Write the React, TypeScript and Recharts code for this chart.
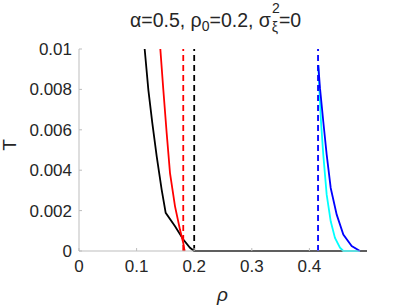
import { Line, LineChart, ReferenceLine, XAxis, YAxis } from "recharts";

// values
const rhoTicks = [0, 0.1, 0.2, 0.3, 0.4];
const tTicks = [0, 0.002, 0.004, 0.006, 0.008, 0.01];

const blackRho = [0.114, 0.1204, 0.1273, 0.1349, 0.1435, 0.1505, 0.1667, 0.1811, 0.1927, 0.2, 0.5];
const blackT = [0.01, 0.00798, 0.00633, 0.00468, 0.00304, 0.00189, 0.00122, 0.00057, 0.00016, 0, 0];

const redRho = [0.1412, 0.1464, 0.1522, 0.158, 0.1667, 0.1753, 0.181, 0.1829, 0.1835];
const redT = [0.01, 0.00798, 0.00584, 0.00386, 0.00221, 0.00106, 0.0004, 0.00007, 0];

const cyanRho = [0.4154, 0.4172, 0.4201, 0.4241, 0.43, 0.437, 0.4444, 0.4531, 0.4589, 0.4878];
const cyanT = [0.00921, 0.00806, 0.00641, 0.00477, 0.00279, 0.00147, 0.00065, 0.00016, 0, 0];

const blueRho = [0.4154, 0.4184, 0.4241, 0.43, 0.437, 0.4474, 0.4589, 0.4734, 0.4878];
const blueT = [0.00921, 0.00806, 0.00641, 0.00477, 0.00312, 0.0018, 0.00081, 0.00024, 0];

const rho0 = 0.2;
const redCut = 0.181;
const blueCut = 0.415;

const W = 407;
const H = 305;
const margin = { top: 49, right: 40, bottom: 24, left: 19 };
const yAxisWidth = 60;
const xAxisHeight = 30;
const plotLeft = margin.left + yAxisWidth;
const plotBottom = H - margin.bottom - xAxisHeight;

const axisGray = "#bdbdbd";
const textGray = "#262626";
const font = "'Liberation Sans', Arial, Helvetica, sans-serif";

const zip = (xs: number[], ys: number[]) => xs.map((rho, i) => ({ rho, t: ys[i] }));

function XTick({ x, y, payload }: any) {
  return (
    <g>
      <line x1={x} x2={x} y1={plotBottom} y2={plotBottom - 3} stroke={axisGray} />
      <text x={x} y={y} dy={15} textAnchor="middle" fill={textGray} fontSize={17} fontFamily={font}>
        {payload.value}
      </text>
    </g>
  );
}

function YTick({ x, y, payload }: any) {
  return (
    <g>
      <line x1={plotLeft} x2={plotLeft + 3} y1={y} y2={y} stroke={axisGray} />
      <text x={x} y={y} dy={6} textAnchor="end" fill={textGray} fontSize={17} fontFamily={font}>
        {payload.value}
      </text>
    </g>
  );
}

const series = [
  { name: "black", color: "#000000", data: zip(blackRho, blackT) },
  { name: "red", color: "#ff0000", data: zip(redRho, redT) },
  { name: "cyan", color: "#00ffff", data: zip(cyanRho, cyanT) },
  { name: "blue", color: "#0000ff", data: zip(blueRho, blueT) },
];

export default function App() {
  return (
    <div style={{ position: "absolute", left: 0, top: 0, width: W, height: H, fontFamily: font, color: textGray }}>
      <LineChart width={W} height={H} margin={margin}>
        <XAxis
          dataKey="rho"
          type="number"
          domain={[0, 0.5]}
          ticks={rhoTicks}
          height={xAxisHeight}
          axisLine={{ stroke: axisGray }}
          tickLine={false}
          tickSize={0}
          tickMargin={6}
          tick={<XTick />}
          allowDuplicatedCategory={false}
        />
        <YAxis
          type="number"
          domain={[0, 0.01]}
          ticks={tTicks}
          width={yAxisWidth}
          axisLine={{ stroke: axisGray }}
          tickLine={false}
          tickSize={0}
          tickMargin={7}
          tick={<YTick />}
        />
        {series.map((s) => (
          <Line
            key={s.name}
            data={s.data}
            dataKey="t"
            type="linear"
            stroke={s.color}
            strokeWidth={1.8}
            dot={false}
            activeDot={false}
            isAnimationActive={false}
          />
        ))}
        <ReferenceLine x={redCut} stroke="#ff0000" strokeWidth={1.8} strokeDasharray="6 4" />
        <ReferenceLine x={rho0} stroke="#000000" strokeWidth={1.8} strokeDasharray="6 4" />
        <ReferenceLine x={blueCut} stroke="#0000ff" strokeWidth={1.8} strokeDasharray="6 4" />
      </LineChart>
      <svg width={W} height={45} style={{ position: "absolute", left: 0, top: 0 }}>
        <text x={130} y={27} fontSize={19.5} fill={textGray} fontFamily={font}>
          α=0.5, ρ
          <tspan fontSize={14} dy={4}>0</tspan>
          <tspan dy={-4}>=0.2, σ</tspan>
          <tspan fontSize={14} dx={1} dy={-14}>2</tspan>
          <tspan fontSize={14} dx={-8} dy={19}>ξ</tspan>
          <tspan dx={1} dy={-5}>=0</tspan>
        </text>
      </svg>
      <svg width={30} height={H} style={{ position: "absolute", left: 0, top: 0 }}>
        <text x={16} y={145} fontSize={19} textAnchor="middle" fill={textGray} fontFamily={font} transform="rotate(-90 16 145)">
          T
        </text>
      </svg>
      <div style={{ position: "absolute", left: 217, top: 284, fontSize: 19, fontStyle: "italic" }}>ρ</div>
    </div>
  );
}
